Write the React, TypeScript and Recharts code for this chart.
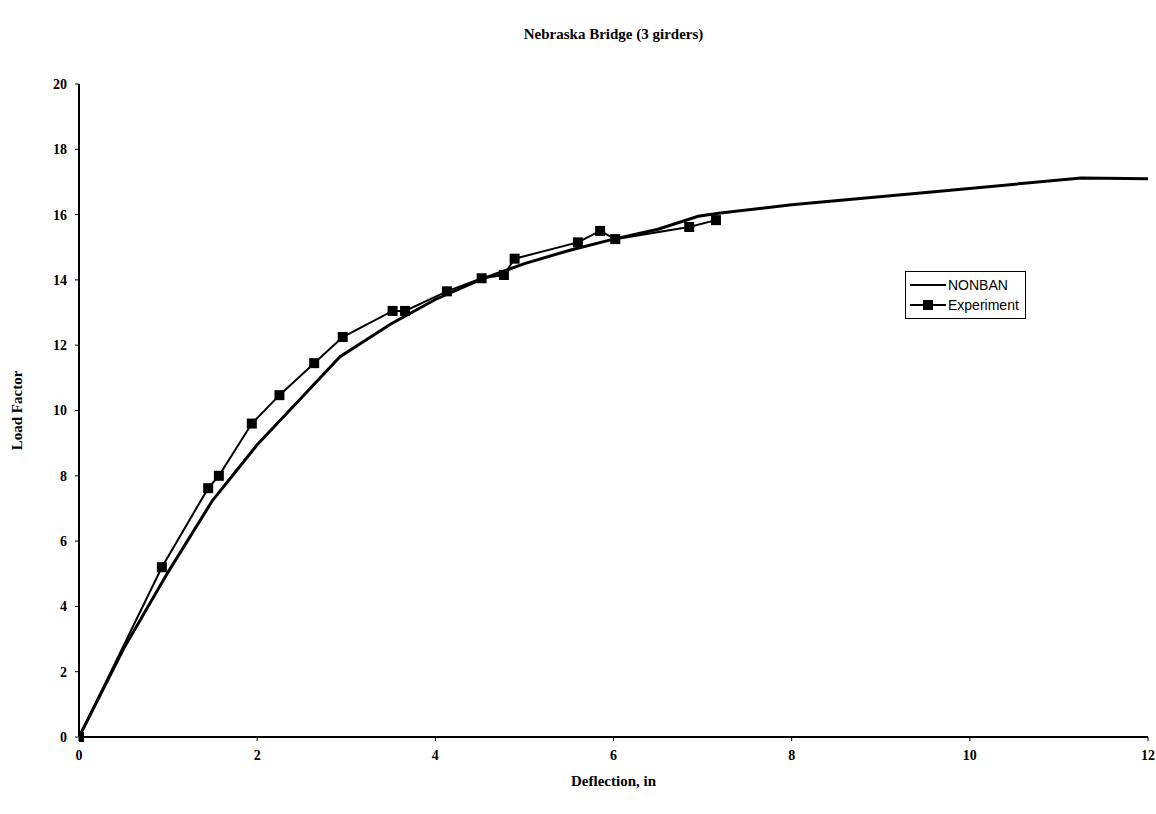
import { LineChart, Line, XAxis, YAxis, Label } from "recharts";

const nonbanX = [0, 0.5, 1, 1.5, 2, 2.5, 2.93, 3.5, 4, 4.5, 5, 5.5, 6, 6.5, 6.95, 7.2, 8, 9.6, 11.25, 12];
const nonbanY = [0, 2.7, 5.05, 7.25, 8.95, 10.4, 11.65, 12.65, 13.4, 14.0, 14.5, 14.9, 15.25, 15.55, 15.95, 16.05, 16.3, 16.7, 17.12, 17.1];

const expX = [0, 0.93, 1.45, 1.57, 1.94, 2.25, 2.64, 2.96, 3.52, 3.66, 4.13, 4.52, 4.77, 4.89, 5.6, 5.85, 6.02, 6.85, 7.15];
const expY = [0, 5.2, 7.62, 8.0, 9.6, 10.47, 11.45, 12.25, 13.05, 13.05, 13.65, 14.05, 14.15, 14.65, 15.15, 15.5, 15.25, 15.62, 15.83];

const xTicks = [0, 2, 4, 6, 8, 10, 12];
const yTicks = [0, 2, 4, 6, 8, 10, 12, 14, 16, 18, 20];

const nonban = nonbanX.map((x, i) => ({ x, y: nonbanY[i] }));
const experiment = expX.map((x, i) => ({ x, y: expY[i] }));

const serif = "'Liberation Serif', 'Times New Roman', serif";
const sans = "'Liberation Sans', Arial, sans-serif";
const tickStyle = { fill: "#000", fontSize: 14, fontWeight: 700, fontFamily: serif };

const SquareDot = (props: any) => {
  const { cx, cy, index } = props;
  return <rect key={`sq-${index}`} x={cx - 5} y={cy - 5} width={10} height={10} fill="#000" />;
};

const LegendBox = () => (
  <div
    style={{
      position: "absolute",
      left: 905,
      top: 271,
      border: "1px solid #000",
      background: "#fff",
      padding: "3px 6px 3px 4px",
      fontFamily: sans,
      fontSize: 14,
      color: "#000",
      lineHeight: "20px",
    }}
  >
    <div style={{ display: "flex", alignItems: "center" }}>
      <svg width={36} height={12}>
        <line x1={0} y1={6} x2={36} y2={6} stroke="#000" strokeWidth={2} />
      </svg>
      <span style={{ marginLeft: 2 }}>NONBAN</span>
    </div>
    <div style={{ display: "flex", alignItems: "center" }}>
      <svg width={36} height={12}>
        <line x1={0} y1={6} x2={36} y2={6} stroke="#000" strokeWidth={2} />
        <rect x={13} y={1} width={10} height={10} fill="#000" />
      </svg>
      <span style={{ marginLeft: 2 }}>Experiment</span>
    </div>
  </div>
);

export default function App() {
  return (
    <div style={{ position: "absolute", left: 0, top: 0, width: 1156, height: 814, background: "#fff" }}>
      <div
        style={{
          position: "absolute",
          top: 26,
          left: 79,
          width: 1069,
          textAlign: "center",
          fontFamily: serif,
          fontWeight: 700,
          fontSize: 15,
        }}
      >
        Nebraska Bridge (3 girders)
      </div>
      <LineChart width={1156} height={814} margin={{ top: 84, right: 8, left: 0, bottom: 0 }}>
        <XAxis
          type="number"
          dataKey="x"
          domain={[0, 12]}
          ticks={xTicks}
          allowDataOverflow
          height={77}
          tick={tickStyle}
          tickSize={4}
          tickMargin={9}
          stroke="#000"
          axisLine={{ stroke: "#000", strokeWidth: 2 }}
        >
          <Label
            value="Deflection, in"
            position="insideBottom"
            offset={28}
            style={{ fill: "#000", fontFamily: serif, fontWeight: 700, fontSize: 15 }}
          />
        </XAxis>
        <YAxis
          type="number"
          dataKey="y"
          domain={[0, 20]}
          ticks={yTicks}
          width={79}
          tick={tickStyle}
          tickSize={4}
          tickMargin={8}
          stroke="#000"
          axisLine={{ stroke: "#000", strokeWidth: 2 }}
        >
          <Label
            value="Load Factor"
            angle={-90}
            position="insideLeft"
            offset={17}
            style={{ fill: "#000", fontFamily: serif, fontWeight: 700, fontSize: 15, textAnchor: "middle" }}
          />
        </YAxis>
        <XAxis xAxisId="top" orientation="top" type="number" dataKey="x" domain={[0, 12]} height={0} tick={false} tickLine={false} axisLine={{ stroke: "#000", strokeWidth: 1 }} />
        <YAxis yAxisId="right" orientation="right" type="number" dataKey="y" domain={[0, 20]} width={0} tick={false} tickLine={false} axisLine={{ stroke: "#000", strokeWidth: 1 }} />
        <Line
          data={nonban}
          dataKey="y"
          name="NONBAN"
          type="linear"
          stroke="#000"
          strokeWidth={3}
          dot={false}
          isAnimationActive={false}
        />
        <Line
          data={experiment}
          dataKey="y"
          name="Experiment"
          type="linear"
          stroke="#000"
          strokeWidth={2}
          dot={SquareDot}
          activeDot={false}
          isAnimationActive={false}
        />
      </LineChart>
      <LegendBox />
    </div>
  );
}
